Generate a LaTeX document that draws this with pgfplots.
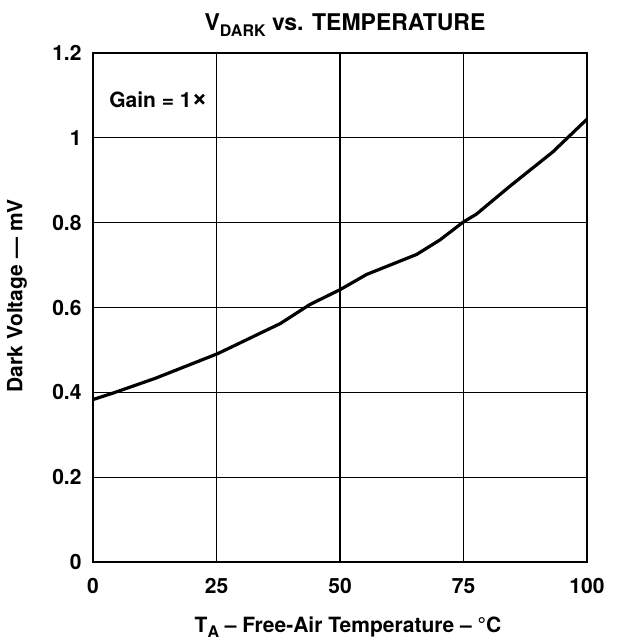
\documentclass[border=0pt]{standalone}
\usepackage{fontspec}
\setmainfont{TeX Gyre Heros}
\usepackage{graphicx}
\usepackage{pgfplots}
\pgfplotsset{compat=1.18}
\begin{document}
\begin{tikzpicture}
\path[use as bounding box] (-93pt,-82pt) rectangle (531pt,562pt);
\begin{axis}[
  at={(0pt,0pt)}, anchor=south west,
  scale only axis, width=494pt, height=509pt,
  xmin=0, xmax=100, ymin=0, ymax=1.2,
  xtick={0,25,50,75,100},
  ytick={0,0.2,0.4,0.6,0.8,1,1.2},
  grid=major,
  major grid style={black, line width=1.2pt},
  axis line style={black, line width=2.3pt},
  major tick length=0pt,
  /pgf/number format/assume math mode=true,
  tick label style={font=\fontsize{21}{25}\selectfont\bfseries},
  yticklabel style={xshift=-8pt},
  xticklabel style={yshift=-13pt},
  title={V\raisebox{-0.28em}{\fontsize{16}{18}\selectfont DARK} vs. TEMPERATURE},
  title style={at={(0.5,1)}, anchor=center, yshift=22pt, xshift=5pt,
    font=\fontsize{23}{27}\selectfont\bfseries},
  xlabel={T\raisebox{-0.25em}{\fontsize{16}{18}\selectfont A} -- Free-Air Temperature -- °C},
  xlabel style={at={(0.5,0)}, anchor=center, yshift=-65pt, xshift=8pt,
    font=\fontsize{21}{25}\selectfont\bfseries},
  ylabel={Dark Voltage --- mV},
  ylabel style={at={(0,0.523)}, anchor=center, yshift=76pt,
    font=\fontsize{21}{25}\selectfont\bfseries},
]
\addplot[black, line width=3.2pt, line join=round] coordinates {
(0,0.383) (4,0.398) (12.6,0.433) (25.2,0.491) (37.9,0.562) (43.9,0.607)
(50,0.642) (55.4,0.678) (65.5,0.725) (70.2,0.759) (74.9,0.801)
(77.6,0.820) (84.4,0.886) (93.1,0.967) (100,1.044)
};
\node[anchor=west, font=\fontsize{21}{25}\selectfont\bfseries] at (axis cs:2.6,1.09) {Gain = 1\raisebox{0.02em}{\scalebox{1.3}{×}}};
\end{axis}
\end{tikzpicture}
\end{document}
